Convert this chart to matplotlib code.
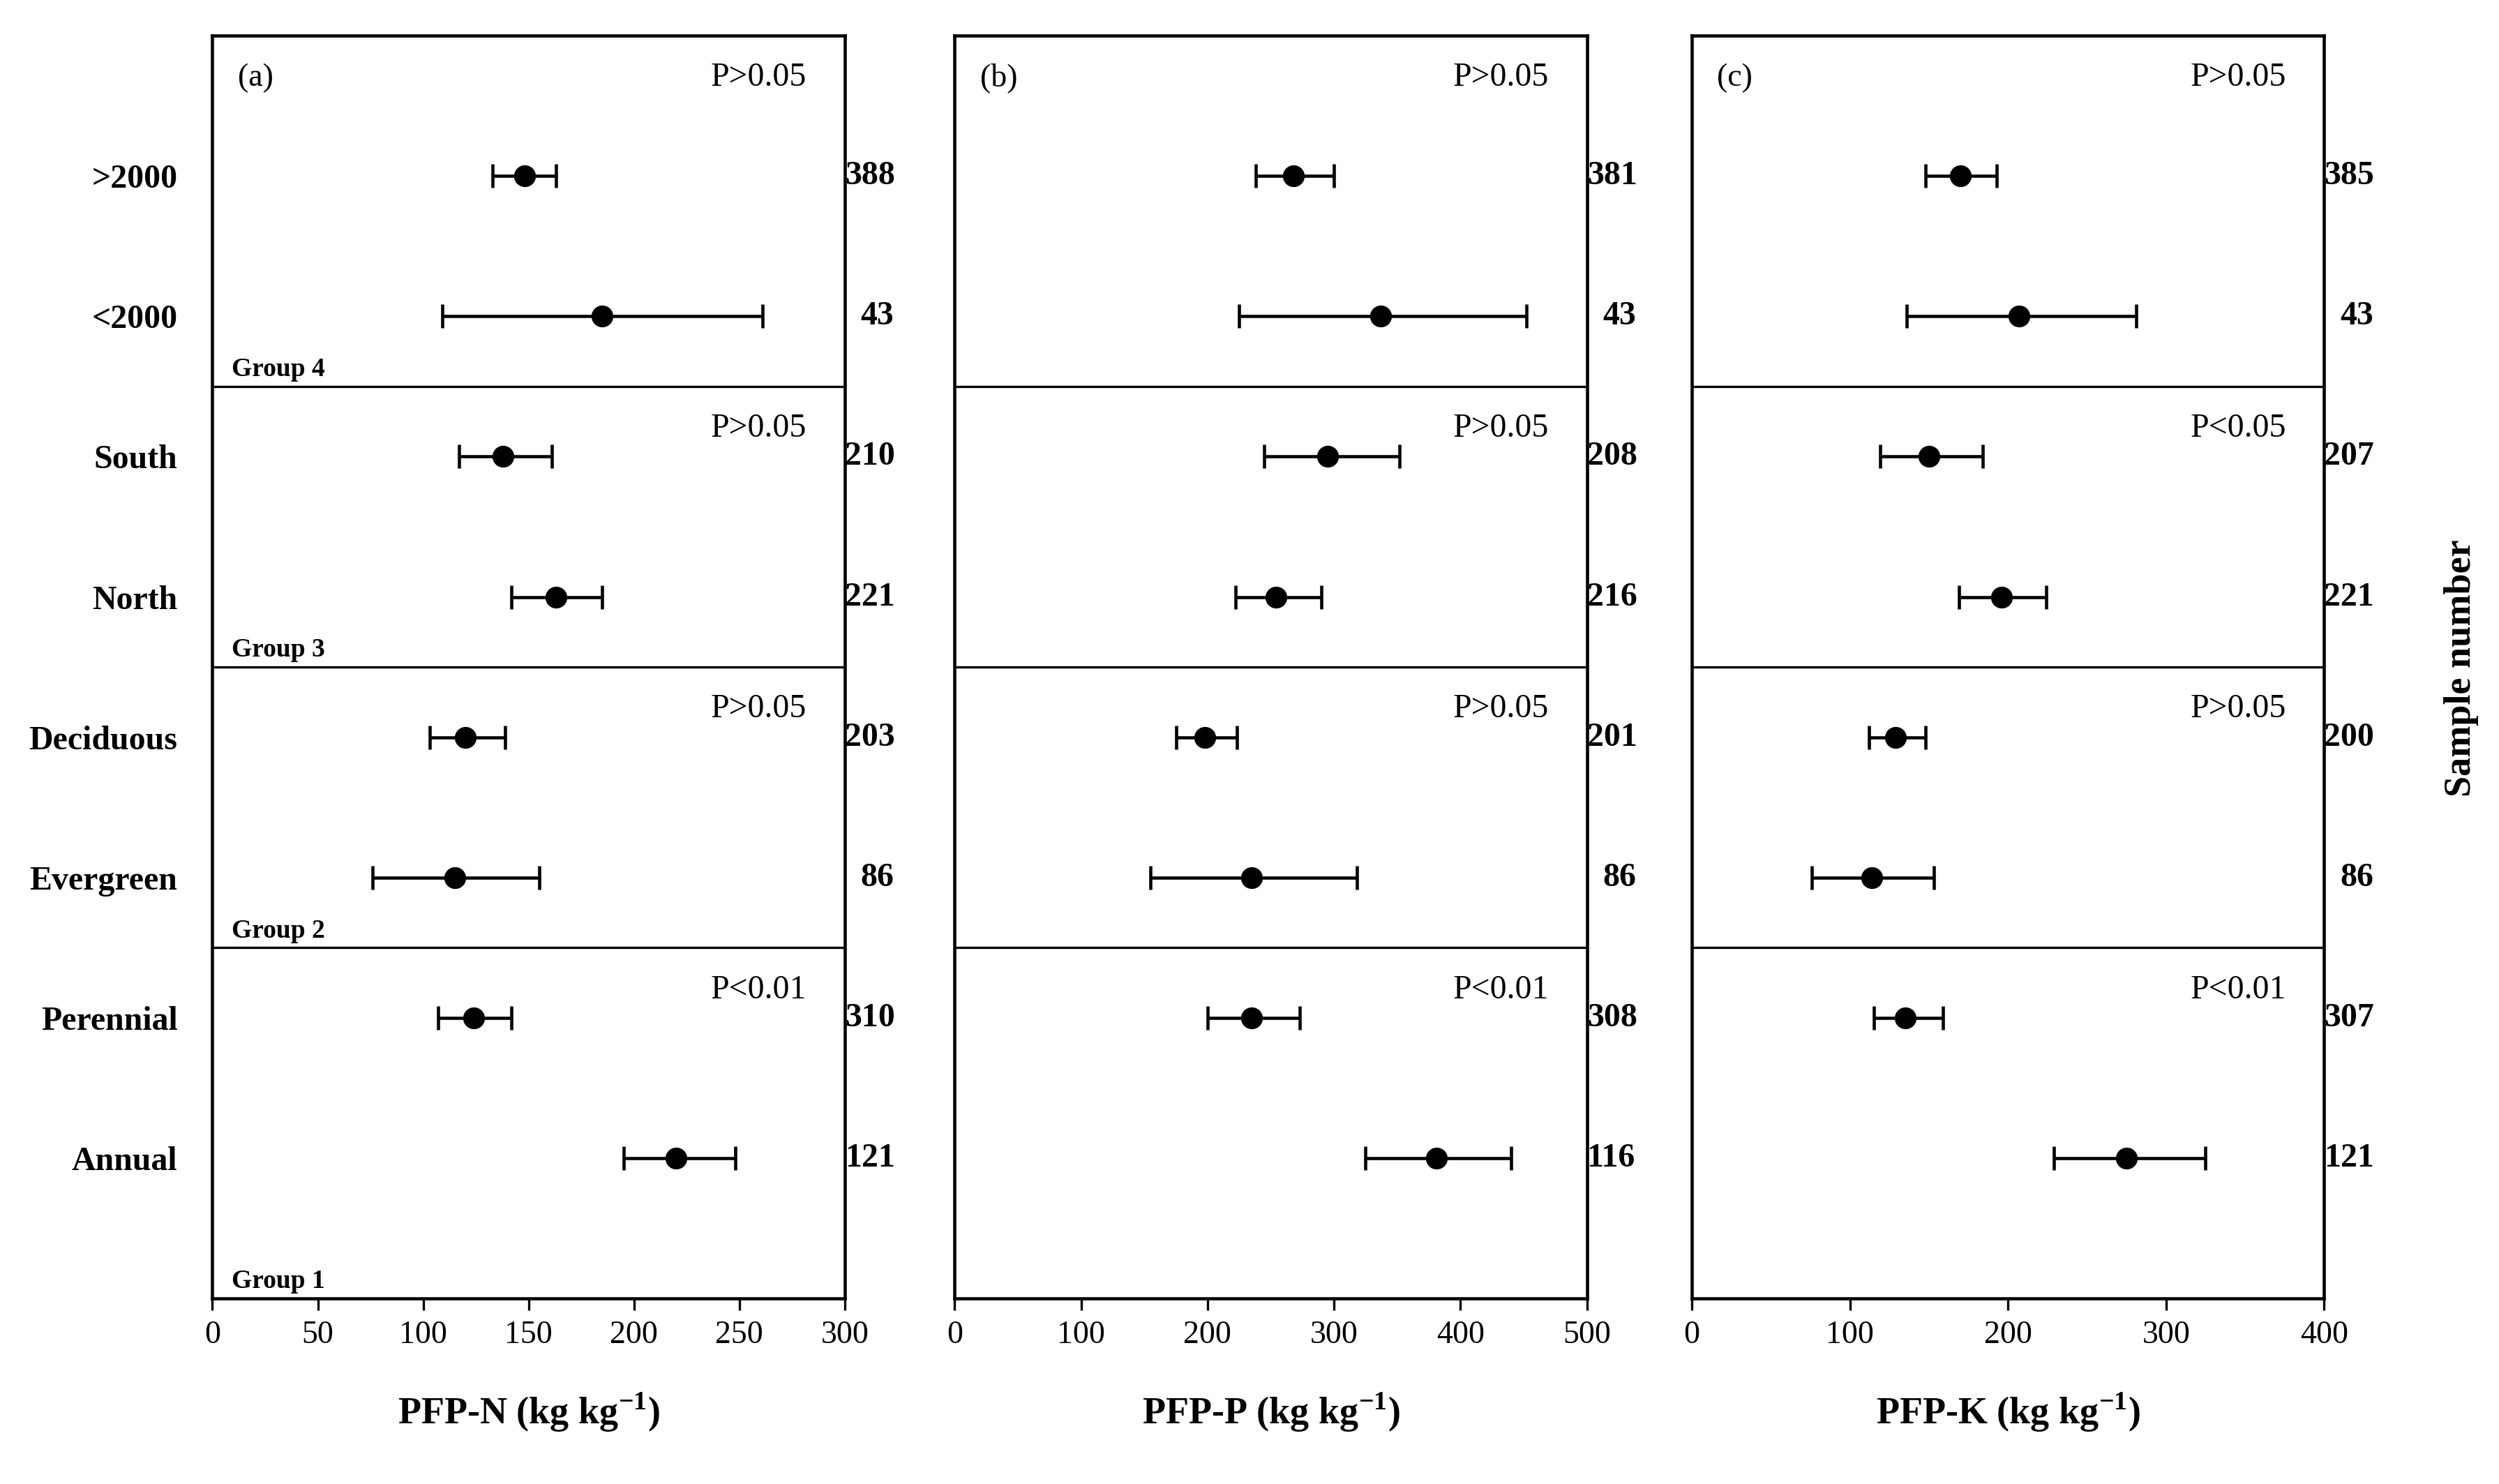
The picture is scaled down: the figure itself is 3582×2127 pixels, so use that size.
import matplotlib
matplotlib.use("Agg")
import matplotlib.pyplot as plt
from matplotlib.transforms import blended_transform_factory as btf

plt.rcParams['font.family'] = ['Liberation Serif', 'DejaVu Serif']
plt.rcParams['mathtext.fontset'] = 'custom'
plt.rcParams['mathtext.rm'] = 'Liberation Serif'
plt.rcParams['mathtext.bf'] = 'Liberation Serif:bold'

categories = ["Annual", "Perennial", "Evergreen", "Deciduous", "North", "South", "<2000", ">2000"]
groups = ["Group 1", "Group 2", "Group 3", "Group 4"]

n_mean = [220, 124, 115, 120, 163, 138, 185, 148]
n_lo = [195, 107, 76, 103, 142, 117, 109, 133]
n_hi = [248, 142, 155, 139, 185, 161, 261, 163]
n_count = ["121", "310", "86", "203", "221", "210", "43", "388"]
n_p = ["P<0.01", "P>0.05", "P>0.05", "P>0.05"]

p_mean = [381, 235, 235, 198, 254, 295, 337, 268]
p_lo = [325, 200, 155, 175, 222, 245, 225, 238]
p_hi = [440, 273, 318, 223, 290, 352, 452, 300]
p_count = ["116", "308", "86", "201", "216", "208", "43", "381"]
p_p = ["P<0.01", "P>0.05", "P>0.05", "P>0.05"]

k_mean = [275, 135, 114, 129, 196, 150, 207, 170]
k_lo = [229, 115, 76, 112, 169, 119, 136, 148]
k_hi = [325, 159, 153, 148, 224, 184, 281, 193]
k_count = ["121", "307", "86", "200", "221", "207", "43", "385"]
k_p = ["P<0.01", "P>0.05", "P<0.05", "P>0.05"]

panels = [
    ("(a)", n_mean, n_lo, n_hi, n_count, n_p, 300, [0, 50, 100, 150, 200, 250, 300], "PFP-N (kg kg$^{\\mathbf{-1}}$)"),
    ("(b)", p_mean, p_lo, p_hi, p_count, p_p, 500, [0, 100, 200, 300, 400, 500], "PFP-P (kg kg$^{\\mathbf{-1}}$)"),
    ("(c)", k_mean, k_lo, k_hi, k_count, k_p, 400, [0, 100, 200, 300, 400], "PFP-K (kg kg$^{\\mathbf{-1}}$)"),
]
lefts = [0.085, 0.382, 0.677]
width = 0.253

fig = plt.figure(figsize=(3582/300, 2127/300), dpi=300)
ypos = list(range(1, 9))
for i, (tag, mean, lo, hi, cnt, pv, xmax, xt, xl) in enumerate(panels):
    ax = fig.add_axes([lefts[i], 0.125, width, 0.851])
    xerr = [[m - l for m, l in zip(mean, lo)], [h - m for m, h in zip(mean, hi)]]
    ax.errorbar(mean, ypos, xerr=xerr, fmt='o', color='black', ms=6.5,
                capsize=4, elinewidth=1.1, capthick=1.1)
    ax.set_xlim(0, xmax)
    ax.set_ylim(0, 9)
    ax.set_xticks(xt)
    ax.tick_params(axis='x', labelsize=11, direction='out', length=4)
    ax.set_yticks(ypos)
    if i == 0:
        ax.set_yticklabels(categories, fontsize=11.5, fontweight='bold')
    else:
        ax.set_yticklabels([])
    ax.tick_params(axis='y', length=0, pad=12)
    for b in [2.5, 4.5, 6.5]:
        ax.axhline(b, color='black', lw=0.8)
    tr = btf(ax.transAxes, ax.transData)
    ax.text(0.04, 8.7, tag, transform=tr, fontsize=11, va='center')
    for g, (bot, top) in enumerate([(0, 2.5), (2.5, 4.5), (4.5, 6.5), (6.5, 9)]):
        ax.text(0.94, top - 0.3, pv[g], transform=tr, fontsize=11.5, ha='right', va='center')
        if i == 0:
            ax.text(0.03, bot + 0.12, groups[g], transform=tr, fontsize=9,
                    fontweight='bold', va='center')
    for y, c in zip(ypos, cnt):
        ax.text(1.0 if len(c) == 3 else 1.025, y, c, transform=tr, fontsize=11.5,
                fontweight='bold', va='center', ha='left')
    ax.set_xlabel(xl, fontsize=13, fontweight='bold', labelpad=14)
    for s in ax.spines.values():
        s.set_linewidth(1.1)

fig.text(0.985, 0.55, "Sample number", rotation=90, fontsize=13, fontweight='bold',
         ha='center', va='center')
fig.savefig("out.png", dpi=300)
